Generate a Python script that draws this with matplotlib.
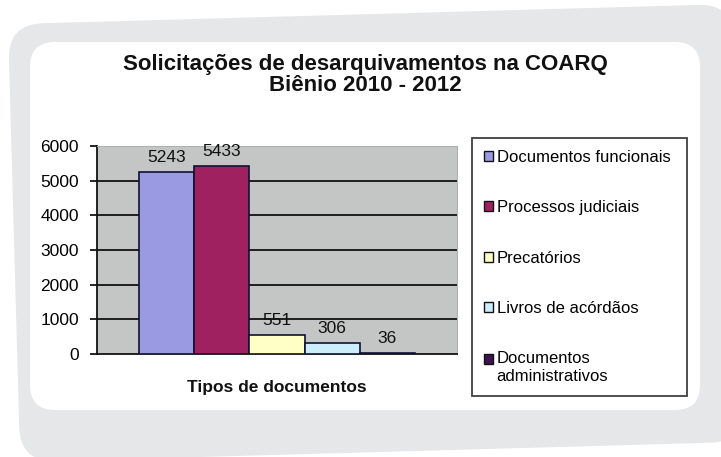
import matplotlib
matplotlib.use("Agg")
import matplotlib.pyplot as plt
from matplotlib.patches import FancyBboxPatch, Patch
from matplotlib.transforms import Affine2D

plt.rcParams['font.family'] = ['Liberation Sans', 'DejaVu Sans']

# ---- data ----
categories = ["Documentos funcionais", "Processos judiciais", "Precatórios",
              "Livros de acórdãos", "Documentos\nadministrativos"]
values = [5243, 5433, 551, 306, 36]
bar_colors = ["#9A9AE2", "#A0215F", "#FFFFC6", "#CCEEFB", "#3E1250"]
yticks = [0, 1000, 2000, 3000, 4000, 5000, 6000]
title = "Solicitações de desarquivamentos na COARQ\nBiênio 2010 - 2012"
xlabel = "Tipos de documentos"

W, H = 721, 457
fig = plt.figure(figsize=(W / 100, H / 100), dpi=100)
fig.patch.set_facecolor("white")

# ---- background panels (pixel coords, y down) ----
bg = fig.add_axes([0, 0, 1, 1], zorder=-10)
bg.set_xlim(0, W)
bg.set_ylim(H, 0)
bg.axis("off")
rot = Affine2D().rotate_deg_around(377, 235, -1.6) + bg.transData
outer = FancyBboxPatch((14 + 35, 14 + 35), 726 - 70, 438 - 70,
                       boxstyle="round,pad=35", facecolor="#E6E7E8",
                       edgecolor="none", transform=rot)
bg.add_patch(outer)
inner = FancyBboxPatch((30 + 25, 42 + 25), 670 - 50, 368 - 50,
                       boxstyle="round,pad=25", facecolor="white",
                       edgecolor="none")
bg.add_patch(inner)

# ---- title ----
fig.text(365 / W, 1 - 75 / H, title, ha="center", va="center",
         fontsize=16, fontweight="bold", linespacing=1.05, color="#111111")

# ---- main axes ----
ax = fig.add_axes([97 / W, 1 - 354 / H, 360 / W, 208 / H])
ax.set_facecolor("#C4C5C5")
x = list(range(len(values)))
bars = ax.bar(x, values, width=1.0, color=bar_colors, edgecolor="#111133",
              linewidth=1.2, zorder=3, label=categories)
ax.set_xlim(-0.5 - 42 / 55.2, 4.5 + 42 / 55.2)
ax.set_ylim(0, 6000)
ax.set_yticks(yticks)
ax.set_yticklabels([str(t) for t in yticks], fontsize=12.5)
ax.set_xticks([])
ax.tick_params(axis="y", direction="out", length=5, width=1.2, pad=8)
for yv in yticks[1:-1]:
    ax.axhline(yv, color="#111111", linewidth=1.3, zorder=1)
for s in ["left", "bottom"]:
    ax.spines[s].set_color("#111111")
    ax.spines[s].set_linewidth(1.3)
for s in ["top", "right"]:
    ax.spines[s].set_color("#B0B0B0")
    ax.spines[s].set_linewidth(0.8)

for xi, v in zip(x, values):
    ax.annotate(str(v), (xi, v), xytext=(0, 5), textcoords="offset points",
                ha="center", va="bottom", fontsize=12.5, color="#111111")

ax.set_xlabel(xlabel, fontsize=12.5, fontweight="bold", labelpad=19,
              color="#111111")

# ---- legend ----
handles = [Patch(facecolor=c, edgecolor="#111111", linewidth=1.0)
           for c in bar_colors]
leg = fig.legend(handles, categories, loc="upper left",
                 bbox_to_anchor=(472 / W, 1 - 393 / H, 215 / W, 255 / H),
                 mode="expand", fontsize=12, frameon=True, fancybox=False,
                 handlelength=0.55, handleheight=0.55, handletextpad=0.2,
                 labelspacing=2.12, borderpad=0.72, borderaxespad=0)
leg.get_frame().set_edgecolor("#111111")
leg.get_frame().set_linewidth(1.3)
leg.get_frame().set_facecolor("white")
# align the two-line entry's marker with its first line
last = leg.legend_handles[-1]
last.set_y(last.get_y() + 6.5)

fig.savefig("out.png", dpi=100)
